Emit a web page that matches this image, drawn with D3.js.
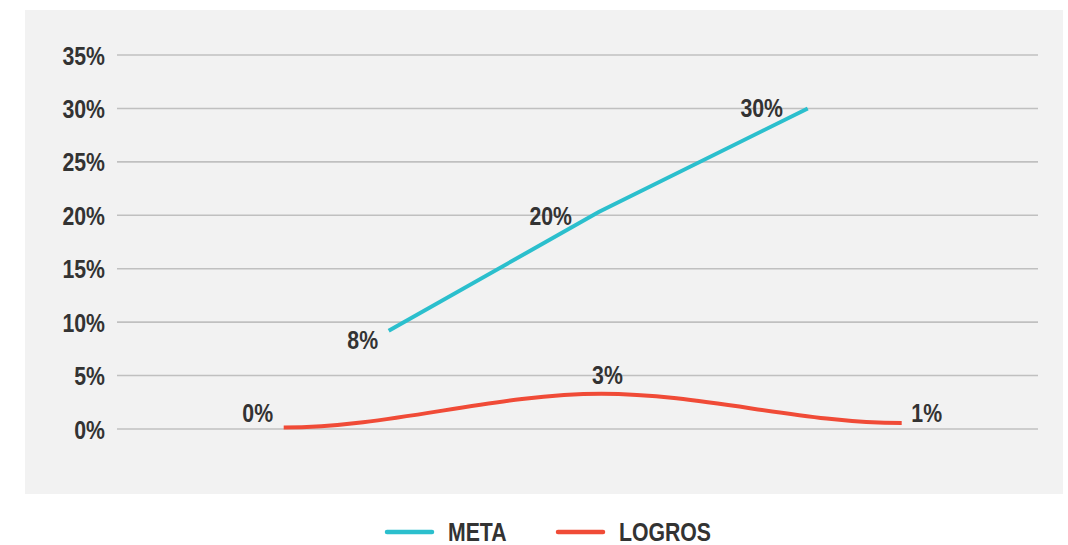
<!DOCTYPE html>
<html><head><meta charset="utf-8">
<script src="https://cdn.jsdelivr.net/npm/d3@7/dist/d3.min.js"></script>
<style>
body{margin:0;background:#fff;}
text{font-family:"Liberation Sans","Arial",sans-serif;font-weight:bold;fill:#333;}
</style></head><body>
<svg id="c" width="1068" height="545"></svg>
<script>
// Data
const yTicks = [0, 0.05, 0.10, 0.15, 0.20, 0.25, 0.30, 0.35];
const seriesNames = ["META", "LOGROS"];
const metaX = [29.5, 52.3, 75.0];
const metaValues = [0.092, 0.203, 0.300];
const metaLabels = ["8%", "20%", "30%"];
const logrosX = [18.1, 52.6, 85.2];
const logrosValues = [0.0014, 0.033, 0.0055];
const logrosLabels = ["0%", "3%", "1%"];

const colors = {META: "#2bbfcd", LOGROS: "#f04b37"};
const labelOffsets = {
  META: [[-26, 9], [-48, 4], [-46, 0]],
  LOGROS: [[-26, -15], [6, -19], [25, -10]]
};
const FS = 25, SX = 0.85;

// smooth curve: cubic segments with horizontal tangents, controls at thirds in x
function curveSmoothFlat(context) {
  let px, py, started;
  return {
    areaStart() {}, areaEnd() {},
    lineStart() { started = false; },
    lineEnd() {},
    point(x, y) {
      x = +x; y = +y;
      if (!started) { context.moveTo(x, y); started = true; }
      else { const h = (x - px) / 3; context.bezierCurveTo(px + h, py, x - h, y, x, y); }
      px = x; py = y;
    }
  };
}

const svg = d3.select("#c");
svg.append("rect").attr("x", 25).attr("y", 10).attr("width", 1038).attr("height", 484).attr("fill", "#f2f2f2");

const x = d3.scaleLinear().domain([0, 100]).range([117, 1038]);
const y = d3.scaleLinear().domain([0, 0.35]).range([429, 55]);

// gridlines
svg.append("g").selectAll("line").data(yTicks).join("line")
  .attr("x1", 117).attr("x2", 1038)
  .attr("y1", d => y(d)).attr("y2", d => y(d))
  .attr("stroke", "#c0c0c0").attr("stroke-width", 1.6);

// y axis
const yAxis = d3.axisLeft(y).tickValues(yTicks).tickFormat(d3.format(".0%")).tickSize(0).tickPadding(0);
const ga = svg.append("g").attr("transform", "translate(105,0)").call(yAxis);
ga.select(".domain").remove();
ga.selectAll("text").attr("x", 0).attr("dy", "0.36em").attr("font-size", FS).attr("fill", "#333")
  .attr("transform", `scale(${SX},1)`)
  .style("font-family", '"Liberation Sans",Arial,sans-serif').style("font-weight", "bold");

const series = [
  {name: "META", xs: metaX, vs: metaValues, labels: metaLabels, curve: d3.curveLinear},
  {name: "LOGROS", xs: logrosX, vs: logrosValues, labels: logrosLabels, curve: curveSmoothFlat}
];

series.forEach(s => {
  const pts = s.xs.map((xv, i) => ({x: xv, v: s.vs[i], label: s.labels[i], i}));
  const line = d3.line().x(d => x(d.x)).y(d => y(d.v)).curve(s.curve);
  svg.append("path").datum(pts).attr("d", line)
    .attr("fill", "none").attr("stroke", colors[s.name]).attr("stroke-width", 4);
  svg.append("g").selectAll("text").data(pts).join("text")
    .attr("transform", d => `translate(${x(d.x) + labelOffsets[s.name][d.i][0]},${y(d.v) + labelOffsets[s.name][d.i][1]}) scale(${SX},1)`)
    .attr("dy", "0.36em").attr("text-anchor", "middle")
    .attr("font-size", FS).text(d => d.label);
});

// legend
const legendX = [387, 558];
const lg = svg.append("g").selectAll("g").data(seriesNames).join("g")
  .attr("transform", (d, i) => `translate(${legendX[i]},532)`);
lg.append("line").attr("x1", 0).attr("x2", 45).attr("y1", 0).attr("y2", 0)
  .attr("stroke", d => colors[d]).attr("stroke-width", 4.5).attr("stroke-linecap", "round");
lg.append("text").attr("transform", `translate(61,0) scale(${SX},1)`).attr("dy", "0.36em").attr("font-size", FS).text(d => d);
</script>
</body></html>
